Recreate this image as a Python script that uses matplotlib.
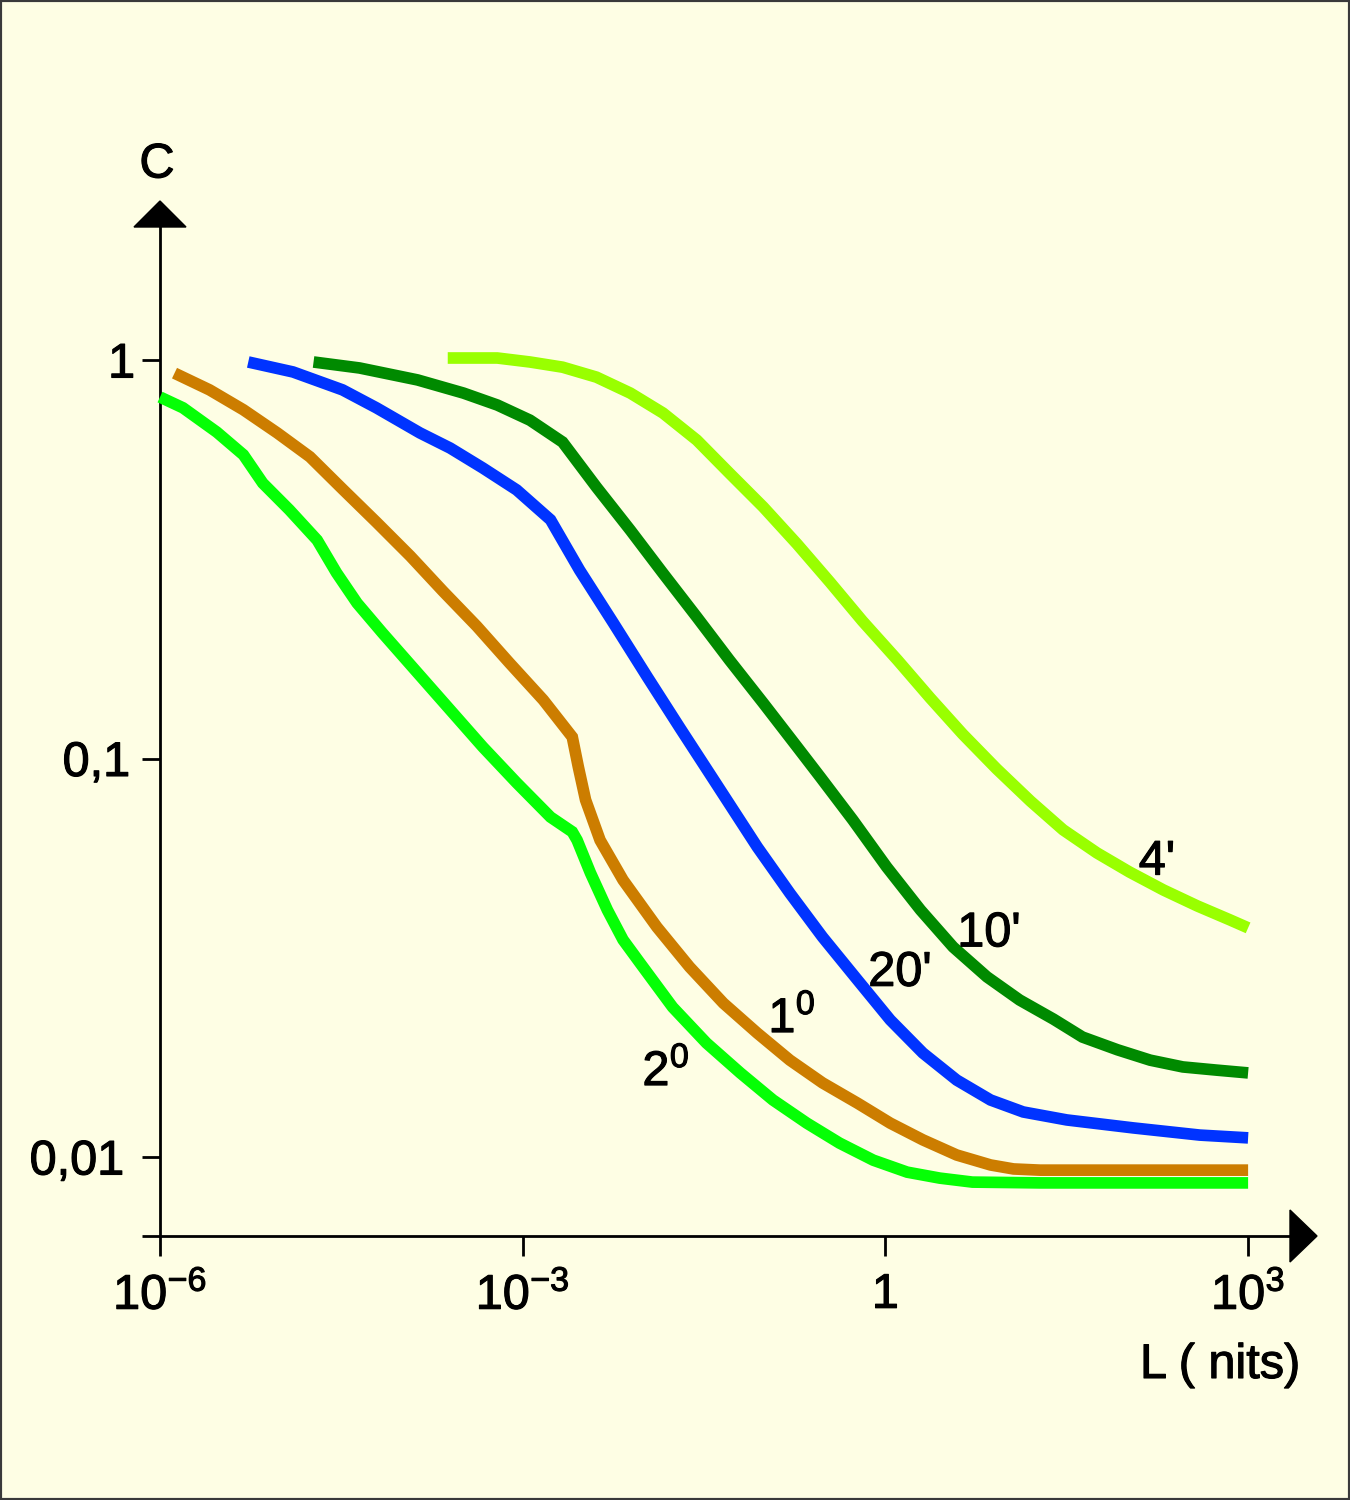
import numpy as np
import matplotlib
matplotlib.use("Agg")
import matplotlib.pyplot as plt
from matplotlib.patches import Polygon, Rectangle
from matplotlib.ticker import NullLocator
from matplotlib.transforms import ScaledTranslation
import matplotlib.patheffects as pe

plt.rcParams['font.family'] = ['Liberation Sans', 'DejaVu Sans']
plt.rcParams['mathtext.fontset'] = 'custom'
plt.rcParams['mathtext.rm'] = 'Liberation Sans'
plt.rcParams['mathtext.it'] = 'Liberation Sans'
plt.rcParams['mathtext.default'] = 'regular'

# ---------------- data (log10 values) ----------------
# 2 degrees (light green)
logL_2deg = [-6.00, -5.81, -5.53, -5.31, -5.15, -4.93, -4.70, -4.54, -4.37, -4.16,
             -3.87, -3.60, -3.33, -3.05, -2.77, -2.59, -2.55, -2.44, -2.30, -2.17,
             -2.03, -1.76, -1.48, -1.20, -0.93, -0.65, -0.38, -0.10, 0.18, 0.45,
             0.72, 1.28, 3.00]
logC_2deg = [-0.093, -0.120, -0.181, -0.238, -0.309, -0.376, -0.452, -0.534, -0.610, -0.685,
             -0.785, -0.878, -0.971, -1.061, -1.147, -1.184, -1.205, -1.287, -1.380, -1.455,
             -1.513, -1.624, -1.714, -1.789, -1.857, -1.915, -1.965, -2.008, -2.038, -2.053,
             -2.063, -2.065, -2.065]

# 1 degree (orange)
logL_1deg = [-5.88, -5.59, -5.31, -5.03, -4.76, -4.49, -4.21, -3.93, -3.66, -3.38,
             -3.11, -2.83, -2.59, -2.54, -2.48, -2.36, -2.17, -1.89, -1.62, -1.34,
             -1.06, -0.79, -0.52, -0.23, 0.04, 0.31, 0.59, 0.87, 1.06, 1.28, 3.00]
logC_1deg = [-0.033, -0.075, -0.125, -0.183, -0.243, -0.324, -0.407, -0.492, -0.580, -0.668,
             -0.760, -0.853, -0.946, -1.021, -1.104, -1.205, -1.305, -1.423, -1.523, -1.614,
             -1.689, -1.757, -1.814, -1.865, -1.915, -1.957, -1.995, -2.020, -2.030, -2.033, -2.033]

# 20 minutes (blue)
logL_20min = [-5.27, -4.90, -4.49, -4.21, -3.85, -3.60, -3.33, -3.05, -2.77, -2.53,
              -2.25, -1.97, -1.70, -1.43, -1.06, -0.79, -0.52, -0.23, 0.04, 0.31,
              0.59, 0.87, 1.14, 1.50, 2.05, 2.60, 3.00]
logC_20min = [-0.005, -0.030, -0.075, -0.120, -0.183, -0.221, -0.271, -0.326, -0.401, -0.527,
              -0.660, -0.795, -0.923, -1.049, -1.222, -1.338, -1.448, -1.556, -1.656, -1.739,
              -1.807, -1.857, -1.887, -1.907, -1.927, -1.945, -1.952]

# 10 minutes (dark green)
logL_10min = [-4.73, -4.35, -3.87, -3.49, -3.21, -2.94, -2.67, -2.39, -2.11, -1.84,
              -1.56, -1.29, -1.01, -0.73, -0.54, -0.27, 0.01, 0.29, 0.56, 0.84,
              1.11, 1.39, 1.63, 1.92, 2.19, 2.46, 2.74, 3.00]
logC_10min = [-0.005, -0.020, -0.050, -0.083, -0.113, -0.151, -0.206, -0.319, -0.427, -0.535,
              -0.645, -0.753, -0.861, -0.971, -1.046, -1.154, -1.272, -1.380, -1.473, -1.548,
              -1.606, -1.654, -1.699, -1.731, -1.757, -1.774, -1.782, -1.789]

# 4 minutes (yellow-green)
logL_4min = [-3.62, -3.21, -2.94, -2.67, -2.39, -2.11, -1.84, -1.56, -1.29, -1.01,
             -0.73, -0.46, -0.19, 0.10, 0.37, 0.64, 0.92, 1.20, 1.47, 1.75,
             2.02, 2.30, 2.58, 2.85, 3.00]
logC_4min = [0.005, 0.005, -0.005, -0.018, -0.043, -0.083, -0.133, -0.201, -0.284, -0.369,
             -0.462, -0.557, -0.655, -0.753, -0.848, -0.939, -1.026, -1.107, -1.179, -1.237,
             -1.285, -1.330, -1.370, -1.405, -1.425]

curve_colors = ['#05FF05', '#CC7D00', '#0033FF', '#008A00', '#99FF00']
curve_labels = [r'2$^0$', r'1$^0$', "20'", "10'", "4'"]
label_logL = [-1.815, -0.773, 0.121, 0.857, 2.246]
label_logC = [-1.787, -1.654, -1.539, -1.440, -1.260]

x_ticks = [1e-6, 1e-3, 1, 1e3]
x_ticklabels = [r'$10^{-6}$', r'$10^{-3}$', '1', r'$10^{3}$']
y_ticks = [0.01, 0.1, 1]
y_ticklabels = ['0,01', '0,1', '1']

# ---------------- layout (pixels) ----------------
W, H = 1350, 1500
X_ORIGIN, X_DEC = 160.0, 120.9      # pixel of 1e-6, pixels per decade
Y_ONE, Y_DEC = 360.0, 398.5         # pixel of C=1, pixels per decade
AX_L, AX_R, AX_T, AX_B = 160, 1290, 227, 1236
BG = '#FEFEE4'
FS = 35
heavy = [pe.withStroke(linewidth=0.8, foreground='black')]

fig = plt.figure(figsize=(W / 100, H / 100), dpi=100, facecolor=BG)
ax = fig.add_axes([AX_L / W, 1 - AX_B / H, (AX_R - AX_L) / W, (AX_B - AX_T) / H])
ax.set_facecolor(BG)
ax.set_xscale('log')
ax.set_yscale('log')
ax.set_xlim(10 ** (-6), 10 ** (-6 + (AX_R - X_ORIGIN) / X_DEC))
ymin = 10 ** ((Y_ONE - AX_B) / Y_DEC)
ax.set_ylim(ymin, 10 ** ((Y_ONE - AX_T) / Y_DEC))

series = [(logL_2deg, logC_2deg), (logL_1deg, logC_1deg), (logL_20min, logC_20min),
          (logL_10min, logC_10min), (logL_4min, logC_4min)]
for (lx, ly), col in zip(series, curve_colors):
    ax.plot(10 ** np.array(lx), 10 ** np.array(ly), color=col, lw=8.4,
            solid_capstyle='butt', solid_joinstyle='miter', clip_on=False, zorder=3)

for s, lx, ly in zip(curve_labels, label_logL, label_logC):
    ax.text(10 ** lx, 10 ** ly, s, ha='center', va='center', fontsize=FS, color='black',
            zorder=4, path_effects=heavy)

# axes styling
for side in ['top', 'right']:
    ax.spines[side].set_visible(False)
for side in ['left', 'bottom']:
    ax.spines[side].set_linewidth(2.0)
    ax.spines[side].set_color('black')

ax.set_xticks(x_ticks)
ax.set_xticklabels(x_ticklabels)
ax.set_yticks([ymin] + y_ticks)
ax.set_yticklabels([''] + y_ticklabels)
ax.xaxis.set_minor_locator(NullLocator())
ax.yaxis.set_minor_locator(NullLocator())
ax.tick_params(axis='x', direction='out', length=14.5, width=2.0, pad=12, labelsize=FS)
ax.tick_params(axis='y', direction='out', length=13, width=2.0, pad=7, labelsize=FS)
for lab in ax.get_xticklabels() + ax.get_yticklabels():
    lab.set_path_effects(heavy)

# fine horizontal placement of the y tick labels (pixels)
y_label_dx = [0, -8, -2, 3]
for lab, dx in zip(ax.get_yticklabels(), y_label_dx):
    lab.set_transform(lab.get_transform() + ScaledTranslation(dx / 100, 0, fig.dpi_scale_trans))

# arrow heads
aw, ah = AX_R - AX_L, AX_B - AX_T
xa = Polygon([[1, 26 / ah], [1 + 27 / aw, 0], [1, -26 / ah]], closed=True,
             transform=ax.transAxes, clip_on=False, color='black', zorder=5)
ya = Polygon([[-26 / aw, 1], [0, 1 + 26 / ah], [26 / aw, 1]], closed=True,
             transform=ax.transAxes, clip_on=False, color='black', zorder=5)
ax.add_patch(xa)
ax.add_patch(ya)

# axis titles
fig.text(157 / W, 1 - 165 / H, 'C', ha='center', va='center', fontsize=FS, path_effects=heavy)
fig.text(1300 / W, 1 - 1378 / H, 'L ( nits)', ha='right', va='baseline', fontsize=FS,
         path_effects=heavy)

# frame
fig.patches.append(Rectangle((0, 0), 1, 1, transform=fig.transFigure, fill=False,
                             edgecolor='#3a3a3a', lw=3, zorder=10))

fig.savefig('out.png', dpi=100, facecolor=BG)
